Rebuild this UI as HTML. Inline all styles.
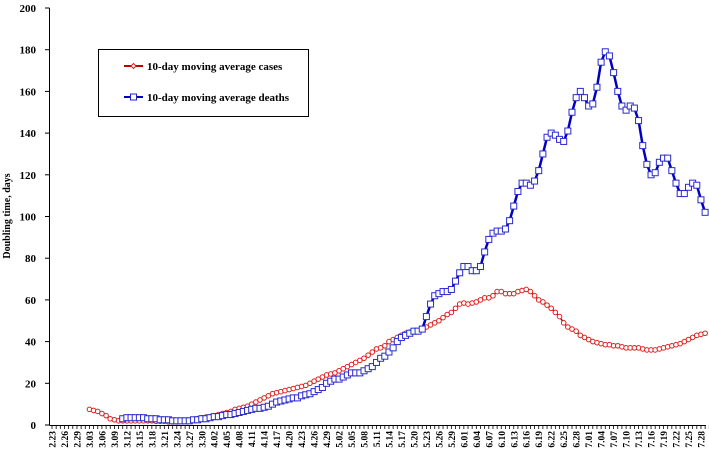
<!DOCTYPE html>
<html><head><meta charset="utf-8"><style>
body{margin:0;background:#fff;}
svg text{font-family:"Liberation Serif",serif;font-weight:bold;fill:#000;}
</style></head><body>
<svg id="chart" width="709" height="457" xmlns="http://www.w3.org/2000/svg">
<g id="axes"></g><g id="series"></g>
<g>
<rect x="98.5" y="49.5" width="210" height="67" fill="#fff" stroke="#000" stroke-width="1"/>
<g>
<line x1="124" y1="66" x2="143" y2="66" stroke="#c00000" stroke-width="2"/>
<path d="M133.5,63.5 L136,66 L133.5,68.5 L131,66 Z" fill="#fff" stroke="#e02020" stroke-width="1"/>
<text x="147" y="70" font-size="11">10-day moving average cases</text></g>
<g>
<line x1="124" y1="97" x2="143" y2="97" stroke="#0000c0" stroke-width="2"/>
<rect x="130.5" y="94" width="6" height="6" fill="#fff" stroke="#2020d0" stroke-width="1"/>
<text x="147" y="101" font-size="11">10-day moving average deaths</text></g>
</g>
<text transform="translate(10,216) rotate(-90)" text-anchor="middle" font-size="10">Doubling time, days</text>
</svg>
<script>
const yTicks=[0,20,40,60,80,100,120,140,160,180,200];
const dateLabels=["2.23","2.26","2.29","3.03","3.06","3.09","3.12","3.15","3.18","3.21","3.24","3.27","3.30","4.02","4.05","4.08","4.11","4.14","4.17","4.20","4.23","4.26","4.29","5.02","5.05","5.08","5.11","5.14","5.17","5.20","5.23","5.26","5.29","6.01","6.04","6.07","6.10","6.13","6.16","6.19","6.22","6.25","6.28","7.01","7.04","7.07","7.10","7.13","7.16","7.19","7.22","7.25","7.28"];
const casesStartDay=9;
const casesValues=[7.5,7,6.5,5.5,4.5,3,2.5,2,
2,2,2,2,2,2,2,2,1.8,1.8,1.8,
1.5,1.5,1.5,1.8,2,2.2,2.5,3,
3.5,3.8,4,4.5,5,5.5,6,6.5,7.5,
8,8.5,9,10,11,12,13,14,15,
15.5,16,16.5,17,17.5,18,18.5,19,
20,21,22,23,24,24.5,25,26,
27,28,29,30,31,32,33.5,35,
36.5,37,38,40,41,42,43,44,
44.5,45,45,46,47,48,49,
50,51.5,53,54,56,58,
58.5,58,58.5,59,60,61,
61,62,64,64,63,63,
63,64,64.5,65,64,62,60,
59,57.5,56,54,52,49,47,46,45,
43,42,41,40,39.5,39,38.5,38.5,38,
38,37.5,37,37,37,37,36.5,36,36,36,36.5,
37,37.5,38,38.5,39,40,41,42,43,43.5,44];
const deathsStartDay=17;
const deathsValues=[3,3.5,3.5,3.5,3.5,3.5,3,3,
3,2.5,2.5,2.5,2,2,2,2,2,2.5,2.5,
3,3,3.5,4,4,4.5,5,5,5.5,6,6.5,
7,7.5,8,8,8.5,9,10,11,11.5,12,12.5,13,
13,14,14.5,15,16,17,18,
20,21,22,22,23,24,25,
25,25,26,27,28,30,
32,33,35,37,40,42,
43,44,45,45,46,52,
58,62,63,64,64,65,
69,73,76,76,74,74,76,
83,89,92,93,93,94,98,105,112,116,116,115,117,122,130,138,140,139,137,136,141,150,157,160,157,153,154,162,174,179,177,169,160,153,151,153,152,146,134,125,120,121,126,128,128,122,116,111,111,114,116,115,108,102];

const NS="http://www.w3.org/2000/svg";
const X0=52,DX=4.16,Y0=425,YTOP=8,YMAX=200;
function xs(day){return X0+day*DX;}
function ys(v){return Y0-(v/YMAX)*(Y0-YTOP);}
function mk(tag,attrs,parent){const e=document.createElementNS(NS,tag);for(const k in attrs)e.setAttribute(k,attrs[k]);parent.appendChild(e);return e;}
const axes=document.getElementById('axes'),series=document.getElementById('series');
// axes lines
const ya=mk('line',{x1:49.5,y1:YTOP,x2:49.5,y2:Y0,stroke:'#000','stroke-width':1},axes);


const xa=mk('line',{x1:49.5,y1:Y0+0.5,x2:706,y2:Y0+0.5,stroke:'#000','stroke-width':1},axes);


yTicks.forEach(v=>{
 const y=ys(v);
 mk('line',{x1:45,y1:y,x2:49.5,y2:y,stroke:'#000','stroke-width':1},axes);
 const t=mk('text',{x:36,y:y+4,'text-anchor':'end','font-size':11},axes);
 t.textContent=v;
 
 
});
for(let d=0;d<=158;d++){
 mk('line',{x1:xs(d),y1:Y0,x2:xs(d),y2:Y0+4,stroke:'#000','stroke-width':0.8},axes);
}
dateLabels.forEach((lab,i)=>{
 const x=xs(i*3);
 const t=mk('text',{transform:`translate(${x+3.5},431) rotate(-90)`,'text-anchor':'end','font-size':9.5},axes);
 t.textContent=lab;
 
 
});
function drawSeries(start,vals,color,lineW,marker,mcolor,name){
 const g=mk('g',{},series);
 
 
 const pts=vals.map((v,i)=>xs(start+i).toFixed(1)+','+ys(v).toFixed(1)).join(' ');
 mk('polyline',{points:pts,fill:'none',stroke:color,'stroke-width':lineW,'stroke-linejoin':'round'},g);
 vals.forEach((v,i)=>{
  const x=xs(start+i),y=ys(v);
  let m;
  if(marker==='sq') m=mk('rect',{x:x-3,y:y-3,width:6,height:6,fill:'#fff',stroke:mcolor,'stroke-width':1},g);
  else m=mk('circle',{cx:x,cy:y,r:2.3,fill:'#fff',stroke:mcolor,'stroke-width':1},g);
  
  
 });
}
drawSeries(casesStartDay,casesValues,'#b00000',1.5,'c','#e02020','cases-series');
drawSeries(deathsStartDay,deathsValues,'#0000c0',2.5,'sq','#2a2ad0','deaths-series');
</script>
</body></html>
